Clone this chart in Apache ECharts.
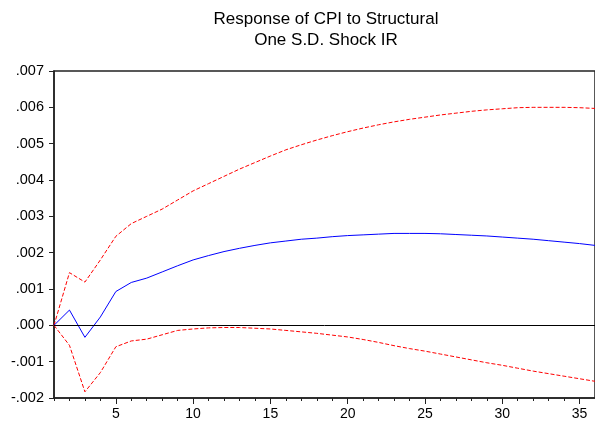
<!DOCTYPE html>
<html>
<head>
<meta charset="utf-8">
<script src="https://cdn.jsdelivr.net/npm/echarts@6/dist/echarts.min.js"></script>
<style>html,body{margin:0;padding:0;background:#fff;}#c{width:595px;height:427px;}</style>
</head>
<body>
<div id="c"></div>
<script>
var periods = [];
for (var i = 1; i <= 36; i++) periods.push(String(i));

var response = [0, 0.00042, -0.00033, 0.00023, 0.00093, 0.00118, 0.0013, 0.00147, 0.00164, 0.0018,
  0.00192, 0.00203, 0.00212, 0.0022, 0.00227, 0.00232, 0.00237, 0.0024, 0.00244, 0.00247,
  0.00249, 0.00251, 0.00253, 0.00253, 0.00253, 0.00252, 0.0025, 0.00248, 0.00246, 0.00243,
  0.0024, 0.00237, 0.00233, 0.00229, 0.00225, 0.0022];

var upperBand = [0, 0.00145, 0.00119, 0.0018, 0.00245, 0.0028, 0.003, 0.0032, 0.00345, 0.0037,
  0.0039, 0.0041, 0.0043, 0.00448, 0.00466, 0.00483, 0.00497, 0.0051, 0.00522, 0.00533,
  0.00543, 0.00552, 0.0056, 0.00567, 0.00573, 0.00579, 0.00584, 0.00589, 0.00593, 0.00596,
  0.00599, 0.006, 0.006, 0.006, 0.00599, 0.00597];

var lowerBand = [0, -0.00055, -0.00183, -0.0013, -0.00059, -0.00043, -0.00038, -0.00026, -0.00014, -0.0001,
  -0.00007, -0.00006, -0.00006, -0.00008, -0.0001, -0.00014, -0.00018, -0.00022, -0.00027, -0.00032,
  -0.00039, -0.00047, -0.00056, -0.00064, -0.00071, -0.00079, -0.00087, -0.00095, -0.00103, -0.0011,
  -0.00118, -0.00126, -0.00133, -0.0014, -0.00147, -0.00154];

var titleLines = ['Response of CPI to Structural', 'One S.D. Shock IR'];

var chart = echarts.init(document.getElementById('c'), null, {renderer: 'canvas'});
var font = 'Liberation Sans, Arial, sans-serif';
function isMajor(idx, val) { return Number(val) % 5 === 0; }
chart.setOption({
  animation: false,
  backgroundColor: '#fff',
  title: {
    text: titleLines.join('\n'),
    left: 321, top: 4, textAlign: 'center',
    textStyle: {fontFamily: font, fontSize: 17, fontWeight: 'normal', color: '#000', lineHeight: 21}
  },
  grid: {left: 54, top: 71, right: -3, bottom: 29, show: true, borderColor: '#222', borderWidth: 1.5, backgroundColor: 'transparent'},
  xAxis: [{
    type: 'category', data: periods, boundaryGap: false,
    axisLine: {onZero: false, lineStyle: {color: '#222', width: 1.5}},
    axisTick: {show: true, interval: 0, length: 3, lineStyle: {color: '#222'}},
    axisLabel: {
      interval: isMajor,
      color: '#000', fontFamily: font, fontSize: 14, margin: 9
    },
    splitLine: {show: false}
  }, {
    type: 'category', data: periods, boundaryGap: false, position: 'bottom',
    axisLine: {show: false, onZero: false},
    axisTick: {show: true, interval: isMajor, length: 6, lineStyle: {color: '#222'}},
    axisLabel: {show: false},
    splitLine: {show: false}
  }],
  yAxis: {
    type: 'value', min: -0.002, max: 0.007, interval: 0.001,
    axisLine: {show: true, onZero: false, lineStyle: {color: '#222', width: 1.5}},
    axisTick: {show: true, length: 5, lineStyle: {color: '#222'}},
    axisLabel: {
      color: '#000', fontFamily: font, fontSize: 14.5, margin: 10,
      formatter: function (v) { return v.toFixed(3).replace('0.', '.'); }
    },
    splitLine: {show: false}
  },
  series: [
    {
      type: 'line', data: upperBand, symbol: 'none', silent: true,
      lineStyle: {color: '#ff0000', width: 1, type: [4, 2]}
    },
    {
      type: 'line', data: lowerBand, symbol: 'none', silent: true,
      lineStyle: {color: '#ff0000', width: 1, type: [4, 2]}
    },
    {
      type: 'line', data: response, symbol: 'none', silent: true,
      lineStyle: {color: '#0000ff', width: 1},
      markLine: {
        silent: true, symbol: 'none', label: {show: false},
        lineStyle: {color: '#000', width: 1, type: 'solid'},
        data: [{yAxis: 0}]
      }
    }
  ]
});
</script>
</body>
</html>
